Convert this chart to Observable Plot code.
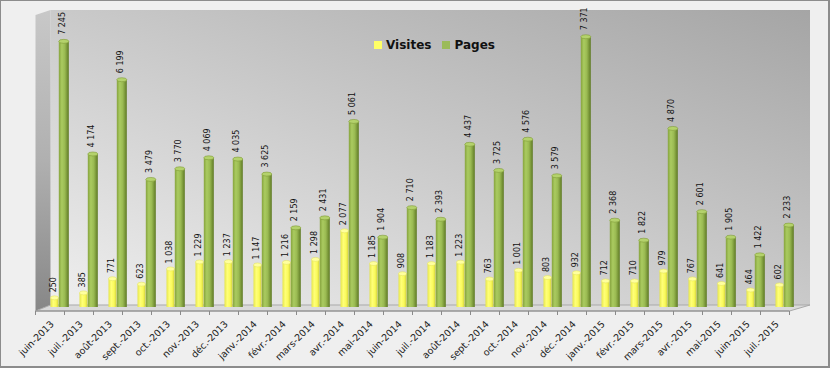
<!DOCTYPE html>
<html><head><meta charset="utf-8">
<script src="https://cdn.jsdelivr.net/npm/d3@7"></script>
<script src="https://cdn.jsdelivr.net/npm/@observablehq/plot@0.6"></script>
<style>
body{margin:0;background:#efefef;}
#wrap{position:relative;width:830px;height:368px;overflow:hidden;}
#wrap svg{display:block;}
#frame{position:absolute;left:0;top:0;width:830px;height:368px;box-sizing:border-box;border:1px solid #8c8c8c;border-right-width:2px;border-bottom-width:2px;pointer-events:none;}
#legend{position:absolute;left:374px;top:38px;font:bold 12px "DejaVu Sans",sans-serif;color:#111;display:flex;align-items:center;white-space:nowrap;}
#legend .sw{display:inline-block;width:8px;height:8px;margin-right:4px;}
</style></head>
<body>
<div id="wrap"><div id="legend"><span class="sw" style="background:#ffff66"></span><span>Visites</span><span class="sw" style="background:#9bbb59;margin-left:11px"></span><span>Pages</span></div><div id="frame"></div></div>
<script>
const months = ["juin-2013","juil.-2013","août-2013","sept.-2013","oct.-2013","nov.-2013","déc.-2013","janv.-2014","févr.-2014","mars-2014","avr.-2014","mai-2014","juin-2014","juil.-2014","août-2014","sept.-2014","oct.-2014","nov.-2014","déc.-2014","janv.-2015","févr.-2015","mars-2015","avr.-2015","mai-2015","juin-2015","juil.-2015"];
const visites = [250,385,771,623,1038,1229,1237,1147,1216,1298,2077,1185,908,1183,1223,763,1001,803,932,712,710,979,767,641,464,602];
const pages = [7245,4174,6199,3479,3770,4069,4035,3625,2159,2431,5061,1904,2710,2393,4437,3725,4576,3579,7371,2368,1822,4870,2601,1905,1422,2233];
const yMax = 8100;

const vis = months.map((m, i) => ({month: m, value: visites[i]}));
const pag = months.map((m, i) => ({month: m, value: pages[i]}));
const fmt = d3.formatLocale({decimal: ",", thousands: "\u00a0", grouping: [3], currency: ["", "€"]}).format(",d");

const W = 830, H = 368, ML = 37, MR = 26, MT = 10, MB = 61;
const BW = (W - ML - MR) / months.length;
const wY = 8.5, wG = 10.5, dxY = -4, dxG = 5.3;

function defs() {
  const d = d3.create("svg:defs");
  const lg = (id, attrs, stops) => {
    const g = d.append("linearGradient").attr("id", id);
    for (const [k, v] of Object.entries(attrs)) g.attr(k, v);
    for (const [o, c] of stops) g.append("stop").attr("offset", o).attr("stop-color", c);
  };
  lg("gWall", {x1: 0, y1: 1, x2: 1, y2: 0}, [[0, "#efefef"], [1, "#a5a5a5"]]);
  lg("gSide", {x1: 0, y1: 0, x2: 0, y2: 1}, [[0, "#c8c8c8"], [0.5, "#b0b0b0"], [1, "#878787"]]);
  lg("gGreen", {x1: 0, y1: 0, x2: 1, y2: 0}, [[0, "#86a33e"], [0.3, "#aacb60"], [0.6, "#9aba52"], [1, "#5e7924"]]);
  lg("gYellow", {x1: 0, y1: 0, x2: 1, y2: 0}, [[0, "#e6e64a"], [0.35, "#ffff78"], [0.7, "#fafa5a"], [1, "#cfcf38"]]);
  return d.node();
}

function walls(index, scales) {
  const {x, y} = scales;
  const bw = x.bandwidth ? x.bandwidth() : BW;
  const xa = x(months[0]), xb = x(months[months.length - 1]) + bw;
  const yb = y(0), yt = y(yMax);
  const g = d3.create("svg:g");
  const fl = xa - 8.5, fb = yb + 4, bl = xa + 6.5, bB = yb - 2, br = xb + 12, fr = xb - 8.5;
  g.append("path").attr("d", `M${bl},${yt}H${br}V${bB}H${bl}Z`).attr("fill", "url(#gWall)");
  g.append("path").attr("d", `M${fl},${yt + 5}L${bl},${yt}V${bB}L${fl},${fb}Z`).attr("fill", "url(#gSide)");
  g.append("path").attr("d", `M${fl},${fb}L${bl},${bB}H${br}L${fr},${fb}Z`).attr("fill", "#dadada").attr("stroke", "#a9a9a9").attr("stroke-width", 1);
  g.append("path").attr("d", `M${fl},${fb}H${fr}`).attr("stroke", "#8a8a8a").attr("stroke-width", 1);
  const ticks = months.map(m => x(m) - 8.5).concat([fr]);
  g.append("path").attr("d", ticks.map(t => `M${t},${fb}v4`).join("")).attr("stroke", "#8a8a8a").attr("stroke-width", 1);
  return g.node();
}

const labelStyle = {fontSize: 8, fontFamily: "DejaVu Sans", fill: "#111", rotate: -90, textAnchor: "start", lineAnchor: "middle"};

const chart = Plot.plot({
  width: W, height: H,
  marginLeft: ML, marginRight: MR, marginTop: MT, marginBottom: MB,
  style: {background: "transparent", overflow: "visible"},
  x: {domain: months, padding: 0, axis: null},
  y: {domain: [0, yMax], axis: null},
  marks: [
    defs,
    walls,
    Plot.barY(vis, {x: "month", y: "value", fill: "url(#gYellow)", dx: dxY, insetLeft: (BW - wY) / 2, insetRight: (BW - wY) / 2}),
    Plot.barY(vis, {x: "month", y1: "value", y2: "value", fill: "#ffff9e", stroke: "#e0e050", strokeWidth: 0.5, dx: dxY, insetLeft: (BW - wY) / 2, insetRight: (BW - wY) / 2, insetTop: -2, insetBottom: -2, rx: wY / 2, ry: 2}),
    Plot.barY(pag, {x: "month", y: "value", fill: "url(#gGreen)", dx: dxG, insetLeft: (BW - wG) / 2, insetRight: (BW - wG) / 2}),
    Plot.barY(pag, {x: "month", y1: "value", y2: "value", fill: "#b4d26c", stroke: "#7f9a38", strokeWidth: 0.6, dx: dxG, insetLeft: (BW - wG) / 2, insetRight: (BW - wG) / 2, insetTop: -2, insetBottom: -2, rx: wG / 2, ry: 2}),
    Plot.text(vis, {x: "month", y: "value", text: d => fmt(d.value), dx: -5.5, dy: -6, ...labelStyle}),
    Plot.text(pag, {x: "month", y: "value", text: d => fmt(d.value), dx: 3, dy: -7, ...labelStyle}),
    Plot.text(months, {x: d => d, text: d => d, frameAnchor: "bottom", rotate: -45, textAnchor: "end", lineAnchor: "middle", dx: -6.5, dy: 15, fontSize: 9.5, fontFamily: "DejaVu Sans", fill: "#222", ariaLabel: "x-axis tick label"})
  ]
});
document.getElementById("wrap").prepend(chart);
</script>
</body></html>
